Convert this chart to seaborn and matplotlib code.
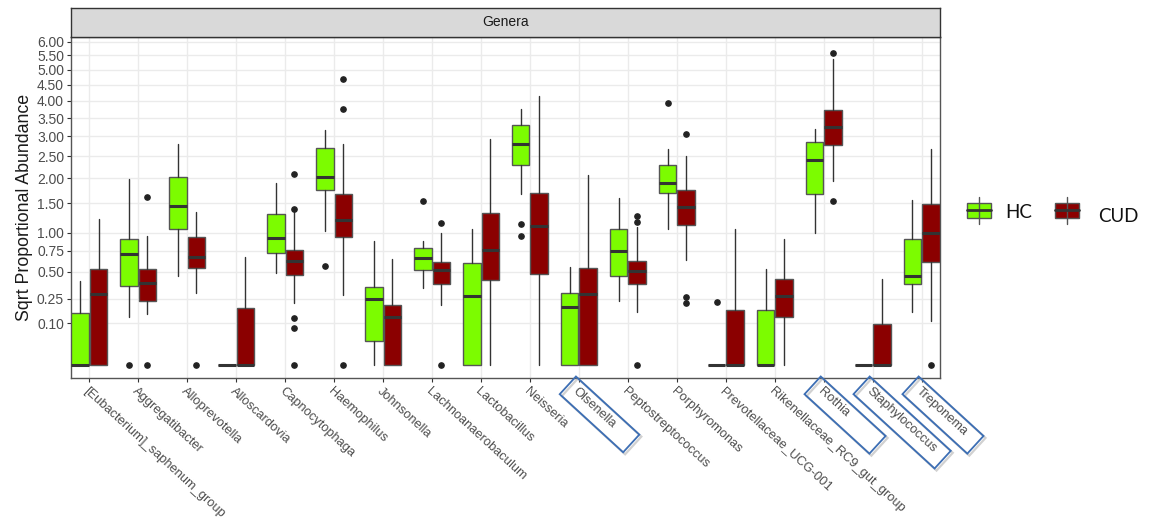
import numpy as np
import matplotlib
matplotlib.use("Agg")
import matplotlib.pyplot as plt
import seaborn as sns
from matplotlib.patches import Rectangle, Polygon
from matplotlib.lines import Line2D
from matplotlib.ticker import NullLocator

# ---------------------------------------------------------------- data
genera = ["[Eubacterium]_saphenum_group", "Aggregatibacter", "Alloprevotella",
          "Alloscardovia", "Capnocytophaga", "Haemophilus", "Johnsonella",
          "Lachnoanaerobaculum", "Lactobacillus", "Neisseria", "Olsenella",
          "Peptostreptococcus", "Porphyromonas", "Prevotellaceae_UCG-001",
          "Rikenellaceae_RC9_gut_group", "Rothia", "Staphylococcus", "Treponema"]
highlighted = ["Olsenella", "Rothia", "Staphylococcus", "Treponema"]
groups = ["HC", "CUD"]

y_ticks = [0.10, 0.25, 0.50, 0.75, 1.00, 1.50, 2.00, 2.50, 3.00,
           3.50, 4.00, 4.50, 5.00, 5.50, 6.00]

# HC summary statistics per genus
hc_whislo = [0, 0.130, 0.455, 0, 0.483, 1.030, 0, 0.338, 0, 1.673,
             0, 0.235, 1.067, 0, 0, 0.996, 0, 0.163]
hc_q1 = [0, 0.358, 1.067, 0, 0.724, 1.751, 0.034, 0.521, 0, 2.303,
         0, 0.458, 1.705, 0, 0, 1.684, 0, 0.379]
hc_med = [0, 0.711, 1.451, 0, 0.930, 2.028, 0.252, 0.653, 0.273, 2.803,
          0.191, 0.746, 1.894, 0, 0, 2.419, 0, 0.451]
hc_q3 = [0.157, 0.911, 2.028, 0, 1.303, 2.703, 0.346, 0.790, 0.593, 3.298,
         0.300, 1.057, 2.289, 0, 0.174, 2.862, 0, 0.911]
hc_whishi = [0.408, 1.980, 2.795, 0, 1.901, 3.169, 0.887, 0.887, 1.061, 3.752,
             0.548, 1.595, 2.670, 0, 0.526, 3.196, 0, 1.563]
hc_fliers = [[], [0.0], [], [], [], [0.566], [], [1.543], [], [1.141, 0.960],
             [], [], [3.940], [0.230], [], [], [], []]

# CUD summary statistics per genus
cud_whislo = [0, 0.149, 0.295, 0, 0.223, 0.279, 0, 0.205, 0, 0,
              0, 0.163, 0.633, 0, 0, 1.943, 0, 0.113]
cud_q1 = [0, 0.237, 0.540, 0, 0.461, 0.945, 0, 0.374, 0.418, 0.478,
          0, 0.377, 1.130, 0, 0.134, 2.770, 0, 0.613]
cud_med = [0.287, 0.383, 0.666, 0, 0.621, 1.206, 0.134, 0.514, 0.755, 1.114,
           0.289, 0.511, 1.438, 0, 0.276, 3.259, 0, 0.996]
cud_q3 = [0.526, 0.532, 0.936, 0.189, 0.763, 1.678, 0.205, 0.609, 1.321, 1.692,
          0.540, 0.621, 1.751, 0.174, 0.427, 3.722, 0.095, 1.482]
cud_whishi = [1.218, 0.960, 1.338, 0.666, 1.349, 2.795, 0.645, 1.005, 2.940, 4.162,
              2.065, 1.098, 2.507, 1.057, 0.916, 5.364, 0.427, 2.685]
cud_fliers = [[], [1.626, 0.0], [0.0], [], [2.086, 1.391, 0.129, 0.080, 0.0],
              [4.705, 3.752, 0.0], [], [1.162, 0.0], [], [], [], [1.274, 1.174, 0.0],
              [3.055, 0.268, 0.218], [], [], [5.598, 1.549], [], [0.0]]

# ---------------------------------------------------------------- style
W, H = 1153, 524
sns.set_theme(style="whitegrid")
plt.rcParams["font.family"] = ["Liberation Sans", "DejaVu Sans"]

fill_colors = {"HC": "#7CFC00", "CUD": "#8B0000"}
offsets = {"HC": -0.1875, "CUD": 0.1875}
box_width = 0.355

fig = plt.figure(figsize=(W / 100, H / 100), dpi=100)
fig.patch.set_facecolor("white")


def fx(x):
    return x / W


def fy(y):
    return 1 - y / H


ax = fig.add_axes([fx(71), fy(378), fx(940) - fx(71), fy(37) - fy(378)])
ax.set_facecolor("white")


def sqrt_fwd(v):
    v = np.asarray(v, dtype=float)
    return np.sign(v) * np.sqrt(np.abs(v))


def sqrt_inv(s):
    s = np.asarray(s, dtype=float)
    return np.sign(s) * s ** 2


ax.set_yscale("function", functions=(sqrt_fwd, sqrt_inv))

summaries = {
    "HC": (hc_whislo, hc_q1, hc_med, hc_q3, hc_whishi, hc_fliers),
    "CUD": (cud_whislo, cud_q1, cud_med, cud_q3, cud_whishi, cud_fliers),
}
xpos = np.arange(len(genera))

for g in groups:
    lo, q1, med, q3, hi, fl = summaries[g]
    stats = [dict(whislo=lo[i], q1=q1[i], med=med[i], q3=q3[i], whishi=hi[i],
                  fliers=np.array(fl[i], dtype=float)) for i in range(len(genera))]
    ax.bxp(stats, positions=xpos + offsets[g], widths=box_width,
           patch_artist=True, showcaps=False, manage_ticks=False, zorder=3,
           boxprops=dict(facecolor=fill_colors[g], edgecolor="#555555", linewidth=1.0),
           medianprops=dict(color="#333333", linewidth=2.2, solid_capstyle="butt"),
           whiskerprops=dict(color="#333333", linewidth=1.0),
           flierprops=dict(marker="o", markerfacecolor="#222222",
                           markeredgecolor="#222222", markersize=3.8, linestyle="none"))

ax.set_xlim(-0.375, len(genera) - 1 + 0.375)
ax.set_ylim(-0.0097, 6.174)

ax.set_yticks(y_ticks)
ax.set_yticklabels([f"{t:.2f}" for t in y_ticks])
ax.yaxis.set_minor_locator(NullLocator())
ax.set_xticks(xpos)
ax.set_xticklabels(genera, rotation=-42.5, ha="left", va="top",
                   rotation_mode="anchor", fontsize=9.3)

ax.grid(True, which="major", color="#EBEBEB", linewidth=1.0)
ax.set_axisbelow(True)
ax.tick_params(axis="both", which="major", bottom=True, left=True, length=3,
               width=0.8, color="#333333", pad=2, labelcolor="#4D4D4D")
ax.tick_params(axis="y", labelsize=10)
for s in ax.spines.values():
    s.set_color("#555555")
    s.set_linewidth(1.0)

ax.set_ylabel("Sqrt Proportional Abundance", fontsize=12.8, color="#1A1A1A")
ax.yaxis.set_label_coords((33 - 71) / 869, 0.5)

# facet strip
sax = fig.add_axes([fx(71), fy(37), fx(940) - fx(71), fy(8) - fy(37)])
sax.set_facecolor("#D9D9D9")
sax.grid(False)
sax.set_xticks([])
sax.set_yticks([])
for s in sax.spines.values():
    s.set_color("#333333")
    s.set_linewidth(1.0)
sax.text(0.5, 0.5, "Genera", ha="center", va="center", fontsize=10,
         color="#1A1A1A", transform=sax.transAxes)

# outlined callouts around selected genus labels
angle = np.deg2rad(42.5)
u = np.array([np.cos(angle), np.sin(angle)])
v = np.array([-np.sin(angle), np.cos(angle)])
callout_len = {"Olsenella": 86, "Rothia": 88, "Staphylococcus": 110, "Treponema": 88}
callout_w = 24
y0 = ax.get_ylim()[0]
for name in highlighted:
    i = genera.index(name)
    dx, dy = ax.transData.transform((i, y0))
    top = np.array([dx - 3, H - dy - 1.5])
    L = callout_len[name]
    corners = [top, top + L * u, top + L * u + callout_w * v, top + callout_w * v]
    shadow = Polygon([(fx(c[0] + 2), fy(c[1] + 2)) for c in corners], closed=True,
                     fill=False, edgecolor="#9A9A9A", linewidth=1.6, alpha=0.45,
                     transform=fig.transFigure)
    frame = Polygon([(fx(c[0]), fy(c[1])) for c in corners], closed=True,
                    fill=False, edgecolor="#3C6EB4", linewidth=1.3,
                    transform=fig.transFigure)
    fig.add_artist(shadow)
    fig.add_artist(frame)

# legend keys
legend_spec = [("HC", 967, 1005, 212.5), ("CUD", 1055, 1098, 216.5)]
for g, kx, tx, ty in legend_spec:
    cx = kx + 12
    fig.add_artist(Line2D([fx(cx), fx(cx)], [fy(197), fy(224)], color="#555555",
                          linewidth=1.0, transform=fig.transFigure))
    fig.add_artist(Rectangle((fx(kx), fy(217.5)), fx(24), fy(203) - fy(217.5),
                             facecolor=fill_colors[g], edgecolor="#555555",
                             linewidth=1.0, transform=fig.transFigure))
    fig.add_artist(Line2D([fx(kx), fx(kx + 24)], [fy(210.2), fy(210.2)],
                          color="#333333", linewidth=2.0, transform=fig.transFigure))
    fig.text(fx(tx), fy(ty), g, ha="left", va="center", fontsize=13.5,
             color="#111111", family=["Lato", "DejaVu Sans"])

fig.savefig("out.png", dpi=100, facecolor="white")
